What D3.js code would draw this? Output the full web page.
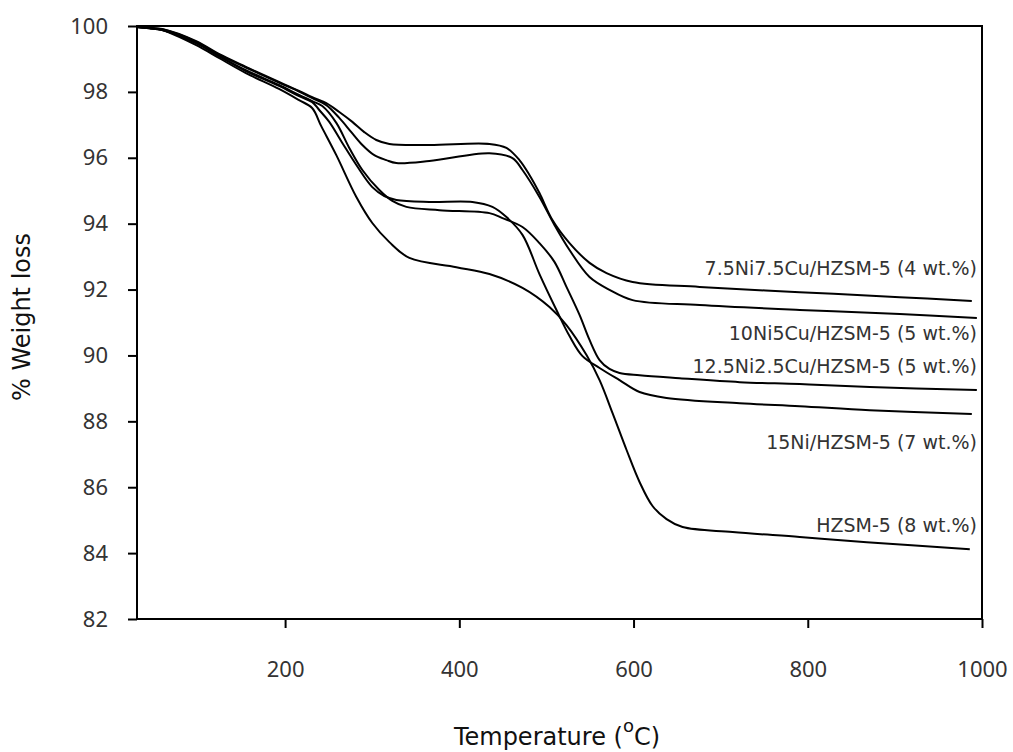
<!DOCTYPE html>
<html>
<head>
<meta charset="utf-8">
<script src="https://cdn.jsdelivr.net/npm/d3@7"></script>
<style>
  html, body { margin: 0; padding: 0; background: #fff; }
  svg { display: block; }
</style>
</head>
<body>
<svg id="chart" width="1013" height="752"></svg>
<script>
// Axis ticks
const xTicks = [200, 400, 600, 800, 1000];
const yTicks = [82, 84, 86, 88, 90, 92, 94, 96, 98, 100];

// Curve labels (sample name and total weight loss)
const seriesLabels = [
  "7.5Ni7.5Cu/HZSM-5 (4 wt.%)",
  "10Ni5Cu/HZSM-5 (5 wt.%)",
  "12.5Ni2.5Cu/HZSM-5 (5 wt.%)",
  "15Ni/HZSM-5 (7 wt.%)",
  "HZSM-5 (8 wt.%)"
];

// TGA curves: [temperature °C, % weight]
const ni75cu75 = [[30,99.97],[44,99.94],[59,99.91],[98,99.54],[124,99.15],[155,98.76],[193,98.30],[216,98.03],
  [231.2,97.84],[247.3,97.66],[262.2,97.39],[277.2,97.09],[290.9,96.78],[304.7,96.54],[319.7,96.42],[365.6,96.39],
  [434.6,96.42],[454.1,96.30],[469,95.93],[480.5,95.48],[492,94.93],[506.9,94.11],[526.5,93.41],[549.5,92.81],
  [569,92.50],[598.9,92.23],[675.8,92.08],[790.7,91.92],[905.6,91.77],[988.3,91.65]];

const ni10cu5 = [[30,99.97],[44,99.94],[59,99.90],[98,99.52],[124,99.13],[155,98.74],[193,98.28],[216,98.01],
  [231.2,97.81],[247.3,97.60],[262.2,97.21],[276,96.78],[288.7,96.39],[302.4,96.08],[316.2,95.93],[327.7,95.84],
  [365.6,95.90],[434.6,96.14],[461,95.99],[472.5,95.63],[492,94.81],[509.2,93.96],[526.5,93.20],[549.5,92.38],
  [572.4,91.99],[598.9,91.68],[675.8,91.53],[790.7,91.38],[905.6,91.26],[994.1,91.14]];

const ni125cu25 = [[30,99.97],[44,99.93],[59,99.88],[98,99.48],[124,99.09],[155,98.66],[193,98.21],[216,97.91],
  [231.2,97.72],[242.7,97.57],[258.8,97.06],[273.7,96.30],[288.7,95.63],[308.2,95.02],[323.1,94.69],[339.2,94.51],
  [377.1,94.41],[434.6,94.32],[449.5,94.17],[472.5,93.90],[492,93.41],[509.2,92.84],[523,92.08],[538,91.23],
  [549.5,90.47],[561,89.86],[572.4,89.59],[583.9,89.47],[606.9,89.40],[652.9,89.31],[721.8,89.19],[790.7,89.13],
  [871.1,89.04],[994.1,88.95]];

const ni15 = [[30,99.97],[44,99.93],[59,99.88],[98,99.48],[124,99.09],[155,98.63],[193,98.18],[216,97.87],
  [231.2,97.69],[239.2,97.45],[250.7,97.09],[265.7,96.45],[281.8,95.78],[300.1,95.11],[313.9,94.84],[327.7,94.72],
  [365.6,94.66],[415,94.66],[438,94.51],[454.1,94.20],[472.5,93.66],[492,92.47],[511.5,91.38],[526.5,90.59],
  [541.4,89.98],[561,89.62],[583.9,89.25],[606.9,88.89],[637.9,88.71],[721.8,88.55],[790.7,88.46],[871.1,88.34],
  [988.3,88.22]];

const hzsm5 = [[30,99.97],[44,99.94],[59,99.88],[98,99.42],[124,99.03],[155,98.57],[193,98.09],[216,97.75],
  [231,97.51],[241.5,96.96],[258.8,96.08],[281.8,94.81],[300.1,94.02],[319.7,93.44],[342.7,92.96],[396.6,92.68],
  [434.6,92.47],[472.5,92.05],[503.5,91.47],[523,90.92],[546,90.01],[561,89.25],[575.9,88.25],[592,87.13],
  [606.9,86.16],[621.8,85.43],[637.9,85.03],[656.3,84.79],[713.7,84.64],[790.7,84.49],[867.7,84.33],[986,84.12]];

const series = [ni75cu75, ni10cu5, ni125cu25, ni15, hzsm5];

// ---- layout ----
const svg = d3.select("#chart");
const plot = { left: 137, right: 982, top: 26, bottom: 619 };

const x = d3.scaleLinear().domain([30, 1000]).range([plot.left, plot.right]);
const y = d3.scaleLinear().domain([82, 100]).range([plot.bottom, plot.top]);

const tickFont = "'Noto Sans', 'DejaVu Sans', sans-serif";
const labelFont = "'DejaVu Sans', sans-serif";

// y axis
const yAxis = svg.append("g")
  .attr("transform", `translate(${plot.left},0)`)
  .call(d3.axisLeft(y).tickValues(yTicks).tickFormat(d3.format("d"))
    .tickSize(9).tickPadding(20).tickSizeOuter(0));
yAxis.select(".domain").remove();
yAxis.selectAll(".tick line").attr("stroke", "#000").attr("stroke-width", 2);
yAxis.selectAll(".tick text")
  .attr("font-family", tickFont).attr("font-size", 22).attr("fill", "#333");

// x axis
const xAxis = svg.append("g")
  .attr("transform", `translate(0,${plot.bottom})`)
  .call(d3.axisBottom(x).tickValues(xTicks).tickFormat(d3.format("d"))
    .tickSize(9).tickPadding(33).tickSizeOuter(0));
xAxis.select(".domain").remove();
xAxis.selectAll(".tick line").attr("stroke", "#000").attr("stroke-width", 2);
xAxis.selectAll(".tick text")
  .attr("font-family", tickFont).attr("font-size", 22).attr("fill", "#333");

// plot frame
svg.append("rect")
  .attr("x", plot.left).attr("y", plot.top)
  .attr("width", plot.right - plot.left).attr("height", plot.bottom - plot.top)
  .attr("fill", "none").attr("stroke", "#000").attr("stroke-width", 2);

// curves
const line = d3.line()
  .x(d => x(d[0]))
  .y(d => y(d[1]))
  .curve(d3.curveCatmullRom.alpha(0.5));

svg.append("g")
  .selectAll("path")
  .data(series)
  .join("path")
  .attr("d", line)
  .attr("fill", "none")
  .attr("stroke", "#000")
  .attr("stroke-width", 2)
  .attr("stroke-linejoin", "round");

// curve labels, right-aligned near the end of each curve
const labelBaselines = [92.44, 90.46, 89.47, 87.16, 84.64];
svg.append("g")
  .selectAll("text")
  .data(seriesLabels)
  .join("text")
  .attr("x", 977)
  .attr("y", (d, i) => y(labelBaselines[i]))
  .attr("text-anchor", "end")
  .attr("font-family", labelFont)
  .attr("font-size", 19)
  .attr("fill", "#333")
  .text(d => d);

// axis titles
svg.append("text")
  .attr("transform", "translate(30,317) rotate(-90)")
  .attr("text-anchor", "middle")
  .attr("font-family", labelFont)
  .attr("font-size", 24)
  .attr("fill", "#111")
  .text("% Weight loss");

const xt = svg.append("text")
  .attr("x", 557).attr("y", 745)
  .attr("text-anchor", "middle")
  .attr("font-family", labelFont)
  .attr("font-size", 24)
  .attr("fill", "#111");
xt.append("tspan").text("Temperature (");
xt.append("tspan").attr("dy", -13).attr("font-size", 18).text("o");
xt.append("tspan").attr("dy", 13).text("C)");
</script>
</body>
</html>
